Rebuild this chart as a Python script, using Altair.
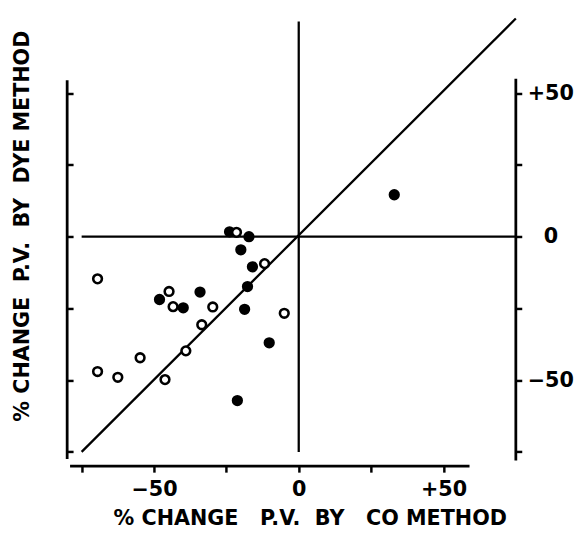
import altair as alt
import pandas as pd

# ---- data ----
filled_x = [-23.9, -17.2, -20.0, -16.0, -17.7, -34.1, -48.1, -39.9, -18.7, -10.2, -21.2, 33.0]
filled_y = [1.7, 0.0, -4.6, -10.5, -17.4, -19.3, -21.9, -24.8, -25.3, -37.0, -57.1, 14.6]
open_x = [-21.5, -11.8, -69.5, -44.8, -43.4, -29.7, -5.0, -33.5, -39.0, -54.8, -69.5, -62.5, -46.2]
open_y = [1.5, -9.4, -14.7, -19.1, -24.4, -24.5, -26.7, -30.7, -39.8, -42.2, -47.0, -49.0, -49.8]

tick_values = [-75, -50, -25, 0, 25, 50]

# reference lines: identity diagonal, zero lines
ref_x = [-75, 0, -75]
ref_y = [-75, -75, 0]
ref_x2 = [75, 0, 75]
ref_y2 = [76, 75, 0]

# frame (axis lines): left, right, bottom
frame_left = {"x": [-80], "y": [-77.5], "y2": [54.5]}
frame_x = [75, -79]
frame_y = [-78, -80]
frame_x2 = [75, 59]
frame_y2 = [55, -80]

x_title = "%\u00a0CHANGE\u00a0\u00a0\u00a0P.V.\u00a0\u00a0BY\u00a0\u00a0\u00a0CO METHOD"
y_title = "% CHANGE\u00a0\u00a0P.V.\u00a0\u00a0BY\u00a0\u00a0DYE METHOD"

pts = pd.DataFrame({
    "x": filled_x + open_x,
    "y": filled_y + open_y,
    "kind": ["filled"] * len(filled_x) + ["open"] * len(open_x),
})
refs = pd.DataFrame({"x": ref_x, "y": ref_y, "x2": ref_x2, "y2": ref_y2})
frame = pd.DataFrame({"x": frame_x, "y": frame_y, "x2": frame_x2, "y2": frame_y2})
left = pd.DataFrame(frame_left)

FONT = "DejaVu Sans"
W, H = 455, 454

x_scale = alt.Scale(domain=[-80, 75], nice=False, zero=False)
y_scale = alt.Scale(domain=[-80, 76], nice=False, zero=False)

lab_expr = "datum.value == 50 ? '+50' : datum.value == -50 ? '\u221250' : datum.value == 0 ? '0' : ''"

x_axis = alt.Axis(
    values=tick_values, labelExpr=lab_expr, domain=False, grid=False,
    tickSize=6, tickWidth=2.5, tickColor="black",
    labelFont=FONT, labelFontSize=21, labelFontWeight="bold", labelColor="black",
    labelPadding=7, labelFlush=False, labelOverlap=False,
    title=x_title, titleFont=FONT, titleFontSize=21, titleFontWeight="bold",
    titleColor="black", titleX=246, titleY=53, titleAlign="center", titleBaseline="middle",
)

y_right_axis = alt.Axis(
    orient="right", values=tick_values, labelExpr=lab_expr, domain=False, grid=False,
    tickSize=6, tickWidth=2.5, tickColor="black",
    labelFont=FONT, labelFontSize=21, labelFontWeight="bold", labelColor="black",
    labelAlign="center", labelBaseline="middle", labelPadding=29,
    labelFlush=False, labelOverlap=False, title=None,
)

y_left_axis = alt.Axis(
    orient="right", offset=-W, values=tick_values, labels=False, domain=False, grid=False,
    tickSize=6, tickWidth=2.5, tickColor="black",
    title=y_title, titleFont=FONT, titleFontSize=21, titleFontWeight="bold",
    titleColor="black", titleAngle=270, titleX=-45, titleY=210,
    titleAlign="center", titleBaseline="middle",
)

frame_layer = alt.Chart(frame).mark_rule(color="black", strokeWidth=2.8).encode(
    x=alt.X("x:Q", scale=x_scale, axis=x_axis),
    x2="x2:Q",
    y=alt.Y("y:Q", scale=y_scale, axis=None),
    y2="y2:Q",
)

left_layer = alt.Chart(left).mark_rule(color="black", strokeWidth=2.8).encode(
    x=alt.X("x:Q", scale=x_scale, axis=x_axis),
    y=alt.Y("y:Q", scale=y_scale, axis=y_left_axis),
    y2="y2:Q",
)

ref_layer = alt.Chart(refs).mark_rule(color="black", strokeWidth=2.3).encode(
    x=alt.X("x:Q", scale=x_scale, axis=x_axis),
    x2="x2:Q",
    y=alt.Y("y:Q", scale=y_scale, axis=None),
    y2="y2:Q",
)

pt_layer = alt.Chart(pts).mark_point(
    shape="circle", filled=True, size=78, stroke="black", strokeWidth=2.6, opacity=1
).encode(
    x=alt.X("x:Q", scale=x_scale, axis=x_axis),
    y=alt.Y("y:Q", scale=y_scale, axis=y_right_axis),
    fill=alt.Fill("kind:N", scale=alt.Scale(domain=["filled", "open"], range=["black", "white"]), legend=None),
)

chart = alt.layer(frame_layer, left_layer, ref_layer, pt_layer).resolve_scale(
    y="independent"
).properties(
    width=W, height=H,
    autosize=alt.AutoSizeParams(type="none"),
    padding={"left": 60, "top": 7, "right": 60, "bottom": 64},
    background="white",
).configure_view(stroke=None)

chart.save("out.html", embed_options={"renderer": "svg", "actions": False})
